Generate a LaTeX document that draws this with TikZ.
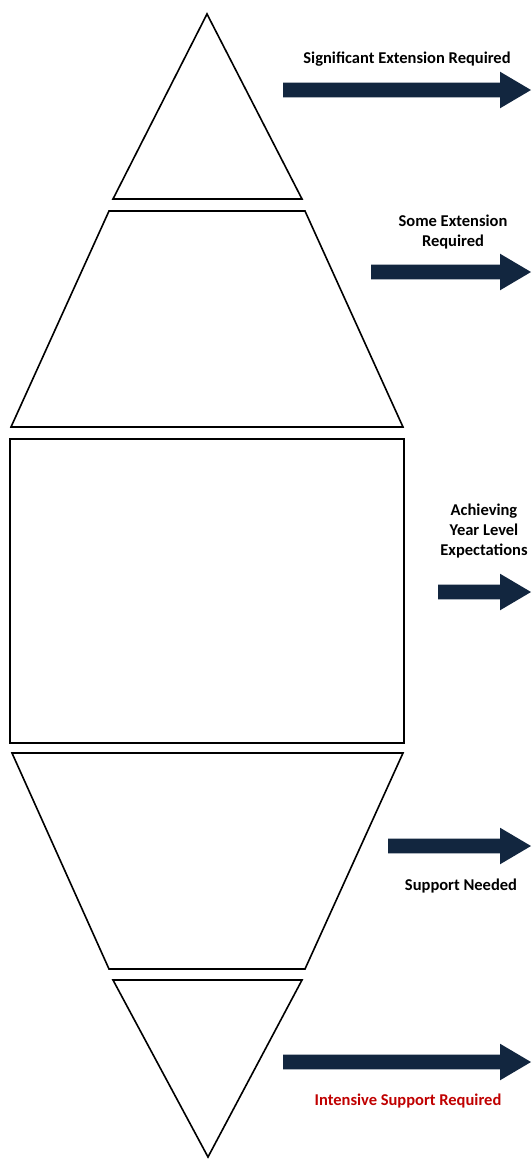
\documentclass[tikz,border=0pt]{standalone}
\usepackage{fontspec}
\setmainfont{Carlito}
\definecolor{navy}{HTML}{12263F}
\definecolor{lblred}{HTML}{C00000}
\begin{document}
\begin{tikzpicture}[x=1pt,y=-1pt,
  band/.style={draw=black,line width=1.6pt,line join=miter,fill=white},
  blockarrow/.style={fill=navy,draw=none},
  lbl/.style={font=\bfseries\fontsize{16.5}{20}\selectfont,align=center,inner sep=0pt,text=black}]
\useasboundingbox[fill=white] (0,0) rectangle (531,1160);
% shapes
\draw[band] (207,14) -- (302,199) -- (113,199) -- cycle;
\draw[band] (109,211) -- (305,211) -- (403,427) -- (11,427) -- cycle;
\draw[band] (10,439) rectangle (404,743);
\draw[band] (12,753) -- (403,753) -- (305,969) -- (109,969) -- cycle;
\draw[band] (113,980) -- (302,980) -- (208,1157) -- cycle;
% arrows
\foreach \y/\x in {90/283, 272/371, 592/438, 846/388, 1062/283}{
  \fill[blockarrow] (\x,\y-7.3) -- (500,\y-7.3) -- (500,\y-18.3) -- (531,\y) -- (500,\y+18.3) -- (500,\y+7.3) -- (\x,\y+7.3) -- cycle;
}
% labels
\node[lbl] (l1) at (407,59) {Significant Extension Required};
\node[lbl] (l2) at (453,232) {Some Extension\\Required};
\node[lbl] (l3) at (484,531) {Achieving\\Year Level\\Expectations};
\node[lbl] (l4) at (461,886) {Support Needed};
\node[lbl,text=lblred] (l5) at (408,1101) {Intensive Support Required};
\end{tikzpicture}
\end{document}
